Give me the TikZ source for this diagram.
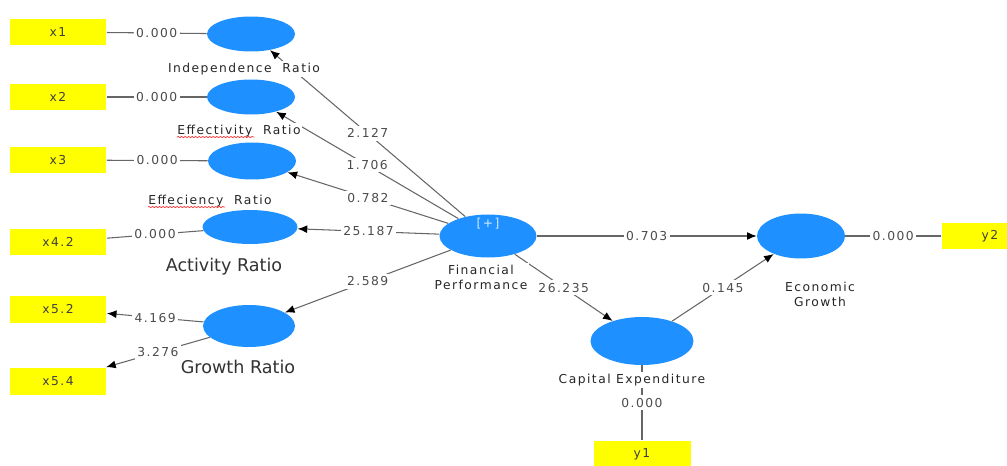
\documentclass[tikz,border=0pt]{standalone}
\usepackage{fontspec}
\setmainfont{DejaVu Sans}
\newfontfamily\smallfont[LetterSpace=12]{DejaVu Sans}
\usetikzlibrary{shapes.geometric,decorations.pathmorphing,arrows.meta}
\definecolor{plsblue}{RGB}{30,144,255}
\definecolor{plsyellow}{RGB}{255,255,0}

\begin{document}
\begin{tikzpicture}[x=0.02cm, y=-0.02cm, >={Latex[length=5.5pt, width=4.5pt, black]},
	lv/.style={ellipse, fill=plsblue, minimum width=1.76cm, minimum height=0.7cm, inner sep=0pt},
	mv/.style={rectangle, fill=plsyellow, minimum width=1.94cm, minimum height=0.54cm, inner sep=0pt, font=\smallfont\fontsize{7}{8}\selectfont, text=black!75},
	val/.style={fill=white, inner sep=1.5pt, font=\smallfont\fontsize{7}{8}\selectfont, text=black!70},
	lbl/.style={fill=white, inner sep=1pt, font=\smallfont\fontsize{7}{8.5}\selectfont, align=center, text=black!85},
	big/.style={fill=white, inner sep=1pt, font=\fontsize{10}{12}\selectfont, text=black!80},
	line/.style={draw=black!60, line width=0.6pt},
	typo/.style={draw=red!80, decorate, decoration={snake, amplitude=0.35pt, segment length=2pt}}]

	\useasboundingbox (0,0) rectangle (1007,466);

	% indicators
	\node at (58,32) [mv] (x1) {x1};
	\node at (58,97) [mv] (x2) {x2};
	\node at (58,160) [mv] (x3) {x3};
	\node at (58,242) [mv] (x42) {x4.2};
	\node at (58,309) [mv] (x52) {x5.2};
	\node at (58,381) [mv] (x54) {x5.4};
	\node at (642,454) [mv] (y1) {y1};
	\node at (990,236) [mv] (y2) {y2};

	% latent variables
	\node at (251,34) [lv] (ind) {};
	\node at (251,97) [lv] (effv) {};
	\node at (252,161) [lv, minimum height=0.74cm] (effc) {};
	\node at (250,227) [lv, minimum width=1.9cm, minimum height=0.68cm] (act) {};
	\node at (249,326) [lv, minimum width=1.84cm, minimum height=0.84cm] (gro) {};
	\node at (488,236) [lv, minimum width=1.94cm, minimum height=0.86cm,
		label={[text=white!80!plsblue, font=\smallfont\fontsize{7}{8}\selectfont, yshift=7pt]center:{[+]}}] (fp) {};
	\node at (801,236) [lv, minimum height=0.9cm] (eg) {};
	\node at (642,341) [lv, minimum width=2.06cm, minimum height=0.96cm] (ce) {};

	% outer loadings
	\draw [line] (x1) -- (ind) node[midway, val] {0.000};
	\draw [line] (x2) -- (effv) node[midway, val] {0.000};
	\draw [line] (x3) -- (effc) node[midway, val] {0.000};
	\draw [line] (x42) -- (act) node[midway, val] {0.000};
	\draw [line, ->] (gro) -- (x52) node[midway, val] {4.169};
	\draw [line, ->] (gro) -- (x54) node[midway, val] {3.276};
	\draw [line] (eg) -- (y2) node[midway, val] {0.000};
	\draw [line] (ce) -- (y1) node[midway, val] {0.000};

	% inner paths
	\draw [line, ->] (fp) -- (ind) node[midway, val] {2.127};
	\draw [line, ->] (fp) -- (effv) node[midway, val] {1.706};
	\draw [line, ->] (fp) -- (effc) node[midway, val] {0.782};
	\draw [line, ->] (fp) -- (act) node[midway, val] {25.187};
	\draw [line, ->] (fp) -- (gro) node[midway, val] {2.589};
	\draw [line, ->] (fp) -- (eg) node[midway, val] {0.703};
	\draw [line, ->] (fp) -- (ce) node[midway, val] {26.235};
	\draw [line, ->] (ce) -- (eg) node[midway, val] {0.145};

	% names
	\node at (244,69) [lbl] (indl) {Independence\ \ Ratio};
	\node at (239,131) [lbl] (effvl) {Effectivity\ \ Ratio};
	\node at (210,201) [lbl] (effcl) {Effeciency\ \ Ratio};
	\node at (224,267) [big] (actl) {Activity Ratio};
	\node at (238,367) [big] (grol) {Growth Ratio};
	\node at (481,277) [lbl] (fpl) {Financial\\Performance};
	\node at (820,294) [lbl] (egl) {Economic\\Growth};
	\node at (632,380) [lbl] (cel) {Capital Expenditure};

	% spell check marks
	\draw [typo] ([xshift=1pt, yshift=-1.5pt]effvl.base west) -- ++(44pt,0);
	\draw [typo] ([xshift=1pt, yshift=-1.5pt]effcl.base west) -- ++(44pt,0);
\end{tikzpicture}
\end{document}
